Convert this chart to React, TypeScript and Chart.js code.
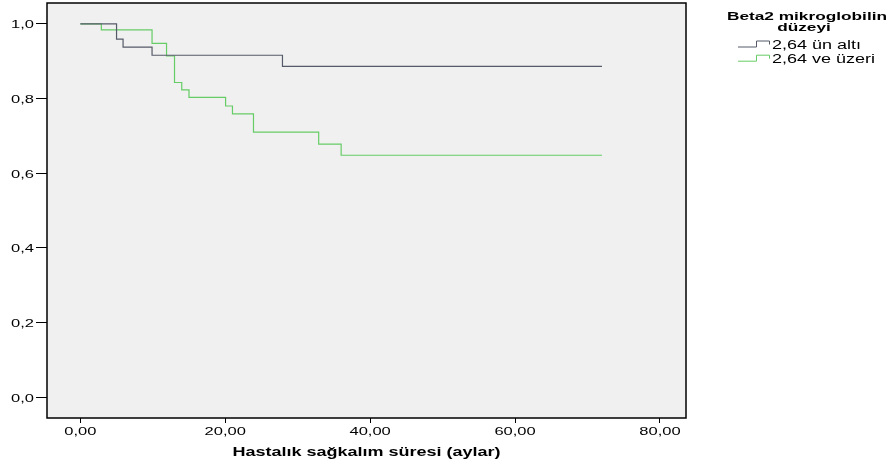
import React, { useEffect, useRef } from "react";
import { Chart, registerables } from "chart.js";

Chart.register(...registerables);

const groupLabels = ["2,64 ün altı", "2,64 ve üzeri"];
const legendTitle = ["Beta2 mikroglobilin", "düzeyi"];
const xTitle = "Hastalık sağkalım süresi (aylar)";

const timesLow = [0, 5, 5.9, 9.9, 27.9, 72];
const survLow = [1.0, 0.959, 0.9375, 0.916, 0.886, 0.886];

const timesHigh = [0, 2.9, 9.9, 11.9, 13.0, 14.0, 15.0, 20.05, 21.0, 23.9, 32.9, 36.0, 72];
const survHigh = [1.0, 0.984, 0.948, 0.914, 0.843, 0.823, 0.803, 0.78, 0.759, 0.71, 0.678, 0.648, 0.648];

const xTicks = [0, 20, 40, 60, 80];
const yTicks = [0, 0.2, 0.4, 0.6, 0.8, 1.0];

const colors = ["#555a68", "#66cc66"];
const FONT = "'Liberation Sans', Arial, sans-serif";
const STRETCH = 1.5;

function stretchedText(ctx: CanvasRenderingContext2D, text: string, x: number, y: number) {
  ctx.save();
  ctx.translate(x, y);
  ctx.scale(STRETCH, 1);
  ctx.fillText(text, 0, 0);
  ctx.restore();
}

export default function App() {
  const ref = useRef<HTMLCanvasElement | null>(null);
  useEffect(() => {
    if (!ref.current) return;
    const framePlugin = {
      id: "frame",
      beforeDraw(chart: any) {
        const { ctx, chartArea: a } = chart;
        ctx.save();
        ctx.fillStyle = "#ffffff";
        ctx.fillRect(0, 0, chart.width, chart.height);
        ctx.fillStyle = "#f0f0f0";
        ctx.fillRect(a.left, a.top, a.right - a.left, a.bottom - a.top);
        ctx.restore();
      },
      afterDraw(chart: any) {
        const { ctx, chartArea: a } = chart;
        const xs = chart.scales.x;
        const ys = chart.scales.y;
        ctx.save();
        ctx.strokeStyle = "#000";
        ctx.lineWidth = 1.5;
        ctx.strokeRect(a.left, a.top, a.right - a.left, a.bottom - a.top);
        ctx.fillStyle = "#000";
        ctx.textBaseline = "alphabetic";
        // tick labels
        ctx.font = `11px ${FONT}`;
        ctx.textAlign = "center";
        xTicks.forEach((v) => {
          stretchedText(ctx, v.toFixed(2).replace(".", ","), xs.getPixelForValue(v), 435);
        });
        ctx.textAlign = "right";
        yTicks.forEach((v) => {
          stretchedText(ctx, v.toFixed(1).replace(".", ","), 34, ys.getPixelForValue(v) + 4.5);
        });
        // x title
        ctx.font = `bold 12px ${FONT}`;
        ctx.textAlign = "center";
        stretchedText(ctx, xTitle, (a.left + a.right) / 2, 456);
        // legend
        ctx.font = `bold 11.5px ${FONT}`;
        stretchedText(ctx, legendTitle[0], 807, 19.5);
        stretchedText(ctx, legendTitle[1], 804, 30.5);
        ctx.font = `12px ${FONT}`;
        ctx.textAlign = "left";
        const base = [48.5, 62.7];
        groupLabels.forEach((lab, i) => {
          const y = base[i];
          ctx.strokeStyle = colors[i];
          ctx.lineWidth = 1;
          ctx.beginPath();
          ctx.moveTo(738, y - 1.5);
          ctx.lineTo(756.5, y - 1.5);
          ctx.lineTo(756.5, y - 7.5);
          ctx.lineTo(769.5, y - 7.5);
          ctx.lineTo(769.5, y - 4);
          ctx.stroke();
          ctx.fillStyle = "#000";
          stretchedText(ctx, lab, 772, y);
        });
        ctx.restore();
      },
    };
    const mk = (ts: number[], ss: number[]) => ts.map((t, i) => ({ x: t, y: ss[i] }));
    const chart = new Chart(ref.current, {
      type: "line",
      data: {
        datasets: [
          {
            label: groupLabels[0],
            data: mk(timesLow, survLow),
            borderColor: colors[0],
            borderWidth: 1.2,
            stepped: "before",
            pointRadius: 0,
            fill: false,
          },
          {
            label: groupLabels[1],
            data: mk(timesHigh, survHigh),
            borderColor: colors[1],
            borderWidth: 1.2,
            stepped: "before",
            pointRadius: 0,
            fill: false,
          },
        ],
      },
      options: {
        animation: false,
        responsive: false,
        layout: { padding: { top: 3, right: 207, left: 0, bottom: 0 } },
        plugins: { legend: { display: false }, tooltip: { enabled: false } },
        scales: {
          x: {
            type: "linear",
            min: -4.6,
            max: 83.6,
            afterFit: (s: any) => { s.height = 48; },
            afterBuildTicks: (s: any) => { s.ticks = xTicks.map((v) => ({ value: v })); },
            grid: { drawOnChartArea: false, drawTicks: true, tickLength: 5, color: "#000", lineWidth: 1 },
            border: { display: false },
            ticks: { display: false },
          },
          y: {
            type: "linear",
            min: -0.056,
            max: 1.056,
            afterFit: (s: any) => { s.width = 47; },
            afterBuildTicks: (s: any) => { s.ticks = yTicks.map((v) => ({ value: v })); },
            grid: { drawOnChartArea: false, drawTicks: true, tickLength: 11, color: "#000", lineWidth: 1 },
            border: { display: false },
            ticks: { display: false },
          },
        },
      },
      plugins: [framePlugin],
    } as any);
    return () => chart.destroy();
  }, []);
  return (
    <div style={{ position: "fixed", left: 0, top: 0, width: 893, height: 466, background: "#fff" }}>
      <canvas ref={ref} width={893} height={466} style={{ width: 893, height: 466 }} />
    </div>
  );
}
